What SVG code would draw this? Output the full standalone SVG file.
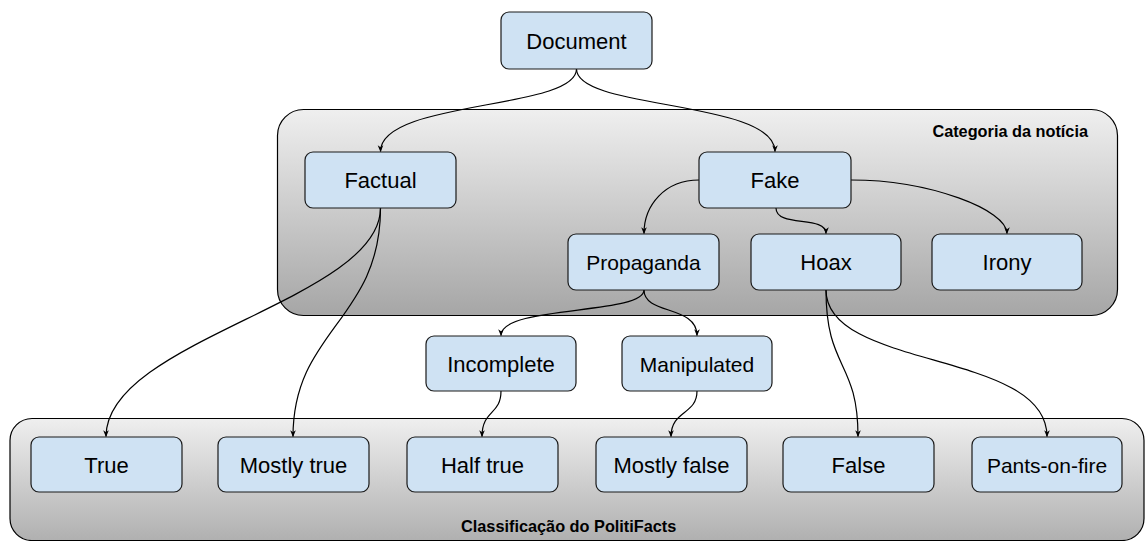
<svg xmlns="http://www.w3.org/2000/svg" width="1145" height="541" viewBox="0 0 1145 541">
<defs>
<linearGradient id="grad" x1="0" y1="0" x2="0" y2="1">
<stop offset="0" stop-color="#efefef"/>
<stop offset="1" stop-color="#a6a6a6"/>
</linearGradient>
<linearGradient id="grad2" x1="0" y1="0" x2="0" y2="1">
<stop offset="0" stop-color="#efefef"/>
<stop offset="1" stop-color="#b0b0b0"/>
</linearGradient>
<marker id="arr" viewBox="0 0 10 10" refX="9" refY="5" markerWidth="7" markerHeight="7" markerUnits="userSpaceOnUse" orient="auto">
<path d="M0,1 L10,5 L0,9 L3,5 Z" fill="#000"/>
</marker>
<style>
.container{stroke:#000;stroke-width:1.2}
.node rect{fill:#cfe2f3;stroke:#1a1a1a;stroke-width:1.2}
.node text{font-family:"Liberation Sans",Arial,sans-serif;font-size:22px;fill:#000;text-anchor:middle}
.node text.s{font-size:21px}
.clabel{font-family:"Liberation Sans",Arial,sans-serif;font-size:16.3px;font-weight:bold;fill:#000}
.edge{fill:none;stroke:#000;stroke-width:1.2;marker-end:url(#arr)}
</style>
</defs>

<g id="containers">
<rect id="cat-container" class="container" x="277.5" y="109.5" width="840" height="206" rx="26" fill="url(#grad)"/>
<text class="clabel" x="1088" y="137" text-anchor="end">Categoria da notícia</text>
<rect id="pf-container" class="container" x="10" y="418.5" width="1134" height="122" rx="22" fill="url(#grad2)"/>
<text class="clabel" x="461" y="532">Classificação do PolitiFacts</text>
</g>

<g id="connectors">
<path class="edge" d="M576.5,69 C576.5,110 380.5,100 380.5,151.5"/>
<path class="edge" d="M576.5,69 C576.5,110 775,100 775,151.5"/>
<path class="edge" d="M699,180 C665,180 644,205 644,233.5"/>
<path class="edge" d="M776,208 C776,228 826,215 826,233.5"/>
<path class="edge" d="M851,180 C930,180 1007,210 1007,233.5"/>
<path class="edge" d="M380.5,208 C380.5,300 106,340 106,436.5"/>
<path class="edge" d="M380.5,208 C380.5,320 293,330 293,436.5"/>
<path class="edge" d="M644,290 C644,315 501,305 501,335.5"/>
<path class="edge" d="M644,290 C644,315 697,305 697,335.5"/>
<path class="edge" d="M501,391 C501,415 482,410 482,436.5"/>
<path class="edge" d="M697,391 C697,415 671,410 671,436.5"/>
<path class="edge" d="M826,290 C826,370 858,360 858,436.5"/>
<path class="edge" d="M826,290 C826,370 1047,350 1047,436.5"/>
</g>

<g id="document" class="node"><rect x="501" y="12" width="151" height="57" rx="8"/><text x="576.5" y="48.5">Document</text></g>
<g id="factual" class="node"><rect x="305" y="152" width="151" height="56" rx="8"/><text x="380.5" y="188">Factual</text></g>
<g id="fake" class="node"><rect x="699" y="152" width="152" height="56" rx="8"/><text x="775" y="188">Fake</text></g>
<g id="propaganda" class="node"><rect x="568" y="234" width="151" height="56" rx="8"/><text class="s" x="643.5" y="270">Propaganda</text></g>
<g id="hoax" class="node"><rect x="751" y="234" width="150" height="56" rx="8"/><text x="826" y="270">Hoax</text></g>
<g id="irony" class="node"><rect x="932" y="234" width="150" height="56" rx="8"/><text x="1007" y="270">Irony</text></g>
<g id="incomplete" class="node"><rect x="426" y="336" width="150" height="55" rx="8"/><text x="501" y="371.5">Incomplete</text></g>
<g id="manipulated" class="node"><rect x="622" y="336" width="150" height="55" rx="8"/><text class="s" x="697" y="371.5">Manipulated</text></g>
<g id="true" class="node"><rect x="31" y="437" width="151" height="55" rx="8"/><text x="106.5" y="472.5">True</text></g>
<g id="mostly-true" class="node"><rect x="218" y="437" width="151" height="55" rx="8"/><text x="293.5" y="472.5">Mostly true</text></g>
<g id="half-true" class="node"><rect x="407" y="437" width="151" height="55" rx="8"/><text x="482.5" y="472.5">Half true</text></g>
<g id="mostly-false" class="node"><rect x="596" y="437" width="151" height="55" rx="8"/><text x="671.5" y="472.5">Mostly false</text></g>
<g id="false" class="node"><rect x="783" y="437" width="151" height="55" rx="8"/><text x="858.5" y="472.5">False</text></g>
<g id="pants-on-fire" class="node"><rect x="972" y="437" width="150" height="55" rx="8"/><text class="s" x="1047" y="472.5">Pants-on-fire</text></g>
</svg>
